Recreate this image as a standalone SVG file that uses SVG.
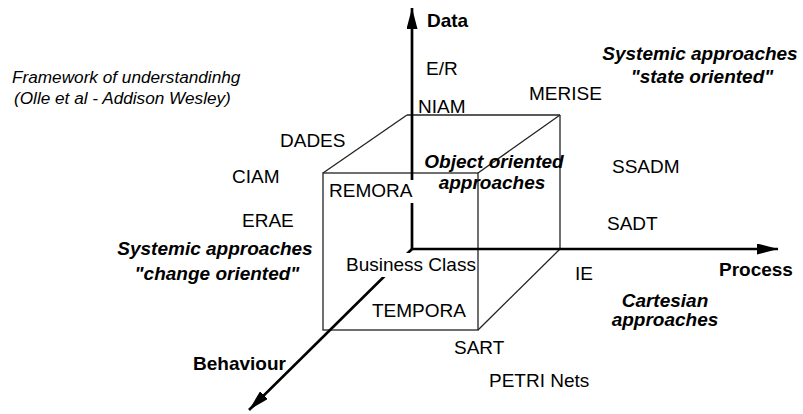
<svg xmlns="http://www.w3.org/2000/svg" width="803" height="414" viewBox="0 0 803 414">
<style>
.t{font-family:"Liberation Sans",Arial,sans-serif;font-size:19px;fill:#000}
.b{font-family:"Liberation Sans",Arial,sans-serif;font-size:19px;font-weight:bold;fill:#000}
.bi{font-family:"Liberation Sans",Arial,sans-serif;font-size:19px;font-weight:bold;font-style:italic;fill:#000}
.i{font-family:"Liberation Sans",Arial,sans-serif;font-size:17.2px;font-style:italic;fill:#000}
.cube{stroke:#222;stroke-width:1.3;fill:none}
.axis{stroke:#000;stroke-width:2.7;fill:none}
.bg{fill:#fff}
</style>
<defs>
<marker id="arr" markerUnits="userSpaceOnUse" markerWidth="22" markerHeight="11" refX="21" refY="5.5" orient="auto">
<path d="M0,0 L21,5.5 L0,11 z" fill="#000"/>
</marker>
</defs>
<g id="connectors">
<g id="cube">
<line class="cube" x1="407" y1="115" x2="560" y2="115"/>
<line class="cube" x1="560" y1="115" x2="560" y2="249"/>
<line class="cube" x1="407" y1="115" x2="323" y2="173"/>
<line class="cube" x1="560" y1="115" x2="478" y2="173"/>
<line class="cube" x1="560" y1="249" x2="478" y2="330"/>
<rect class="cube" x="323" y="173" width="155" height="157"/>
</g>
<g id="axes">
<line class="axis" x1="412" y1="249" x2="412" y2="8" marker-end="url(#arr)"/>
<line class="axis" x1="412" y1="249" x2="778" y2="249" marker-end="url(#arr)"/>
<line class="axis" x1="412" y1="249" x2="249" y2="410" marker-end="url(#arr)"/>
</g>
</g>
<g id="caption">
<text class="i" x="12" y="83">Framework of understandinhg</text>
<text class="i" x="14" y="104">(Olle et al - Addison Wesley)</text>
</g>
<g id="axis-labels">
<text id="data" class="b" x="427" y="27">Data</text>
<text id="process" class="b" x="719" y="276">Process</text>
<text id="behaviour" class="b" x="193" y="370">Behaviour</text>
</g>
<g id="approaches">
<g id="state-oriented">
<text class="bi" x="700" y="60" text-anchor="middle">Systemic approaches</text>
<text class="bi" x="702" y="83" text-anchor="middle">"state oriented"</text>
</g>
<g id="object-oriented">
<text class="bi" x="494" y="168" text-anchor="middle">Object oriented</text>
<text class="bi" x="492" y="189" text-anchor="middle">approaches</text>
</g>
<g id="change-oriented">
<text class="bi" x="215" y="255" text-anchor="middle">Systemic approaches</text>
<text class="bi" x="217" y="280" text-anchor="middle">"change oriented"</text>
</g>
<g id="cartesian">
<text class="bi" x="665" y="307" text-anchor="middle">Cartesian</text>
<text class="bi" x="665" y="326" text-anchor="middle">approaches</text>
</g>
</g>
<g id="methods">
<g id="er"><text class="t" x="426" y="75">E/R</text></g>
<g id="niam"><text class="t" x="418" y="113">NIAM</text></g>
<g id="merise"><text class="t" x="529" y="100">MERISE</text></g>
<g id="dades"><text class="t" x="280" y="147">DADES</text></g>
<g id="ciam"><text class="t" x="232" y="183">CIAM</text></g>
<g id="erae"><text class="t" x="242" y="227">ERAE</text></g>
<g id="remora"><rect class="bg" x="327" y="180" width="88" height="23"/><text class="t" x="329" y="197">REMORA</text></g>
<g id="ssadm"><text class="t" x="612" y="173">SSADM</text></g>
<g id="sadt"><text class="t" x="607" y="230">SADT</text></g>
<g id="business-class"><rect class="bg" x="344" y="253" width="133" height="24"/><text class="t" x="346" y="271">Business Class</text></g>
<g id="ie"><text class="t" x="575" y="280">IE</text></g>
<g id="tempora"><text class="t" x="372" y="317">TEMPORA</text></g>
<g id="sart"><text class="t" x="454" y="354">SART</text></g>
<g id="petri"><text class="t" x="489" y="387">PETRI Nets</text></g>
</g>
</svg>
